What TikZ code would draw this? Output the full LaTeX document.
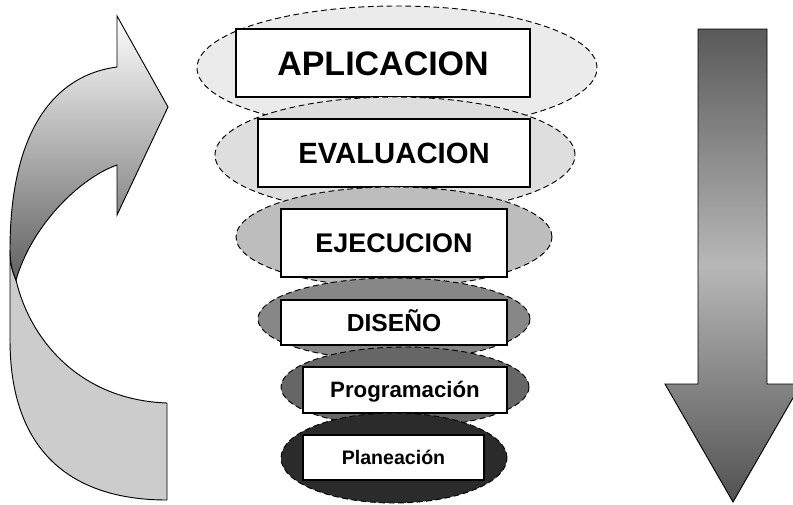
\documentclass[tikz,border=0pt]{standalone}
\usepackage{fontspec}
\setmainfont{Liberation Sans}
\usetikzlibrary{shapes.geometric}
\newlength\px
\setlength\px{0.03cm}

\begin{document}
\begin{tikzpicture}[x=0.03cm,y=-0.03cm,
  layer/.style={ellipse,draw,line width=0.8pt,dash pattern=on 5pt off 3pt,inner sep=0pt},
  stage/.style={rectangle,draw,fill=white,line width=1.2pt,inner sep=0pt,
    font=\bfseries\fontsize{#1pt}{#1pt}\selectfont,text height=0.716*#1pt,text depth=0pt}]
\useasboundingbox (0,0) rectangle (793,504);
%
\filldraw[fill=black!20,line width=0.8pt] (16,280) .. controls (30,340) and (80,400) .. (167,403)
  -- (167,500) .. controls (70,500) and (10,450) .. (10,340) -- (10,250)
  .. controls (10,262) and (12,271) .. (16,280) -- cycle;
\shade[draw,line width=0.8pt,top color=white,bottom color=black!62]
  (10,250) .. controls (10,130) and (55,75) .. (117,67) -- (117,16) -- (168,107)
  -- (117,215) -- (117,165) .. controls (80,178) and (32,225) .. (16,280)
  .. controls (12,271) and (10,262) .. (10,250) -- cycle;
%
\draw (397,68) node[layer,fill=black!8,minimum width=400\px,minimum height=124\px] (aplicacionLayer) {};
\draw (383,63) node[stage=29,minimum width=294\px,minimum height=68\px] (aplicacion) {APLICACION};
%
\draw (395,155) node[layer,fill=black!13,minimum width=360\px,minimum height=116\px] (evaluacionLayer) {};
\draw (394,153) node[stage=25,minimum width=272\px,minimum height=68\px] (evaluacion) {EVALUACION};
%
\draw (394,237) node[layer,fill=black!26,minimum width=316\px,minimum height=100\px] (ejecucionLayer) {};
\draw (394,243) node[stage=23,minimum width=226\px,minimum height=68\px] (ejecucion) {EJECUCION};
%
\draw (394,319) node[layer,fill=black!47,minimum width=272\px,minimum height=82\px] (disenoLayer) {};
\draw (394,322.5) node[stage=21,minimum width=226\px,minimum height=45\px] (diseno) {DISEÑO};
%
\draw (405,387) node[layer,fill=black!60,minimum width=248\px,minimum height=80\px] (programacionLayer) {};
\draw (405,390) node[stage=19,minimum width=204\px,minimum height=46\px] (programacion) {Programación};
%
\draw (394,458) node[layer,fill=black!83,minimum width=226\px,minimum height=90\px] (planeacionLayer) {};
\draw (393.5,457.5) node[stage=16.7,minimum width=181\px,minimum height=45\px] (planeacion) {Planeación};
%
\shade[draw,line width=0.8pt,top color=black!65,bottom color=black!68,middle color=black!28]
  (698,29) -- (767,29) -- (767,384) -- (801,384) -- (733,502) -- (665,384) -- (698,384) -- cycle;
\end{tikzpicture}
\end{document}
